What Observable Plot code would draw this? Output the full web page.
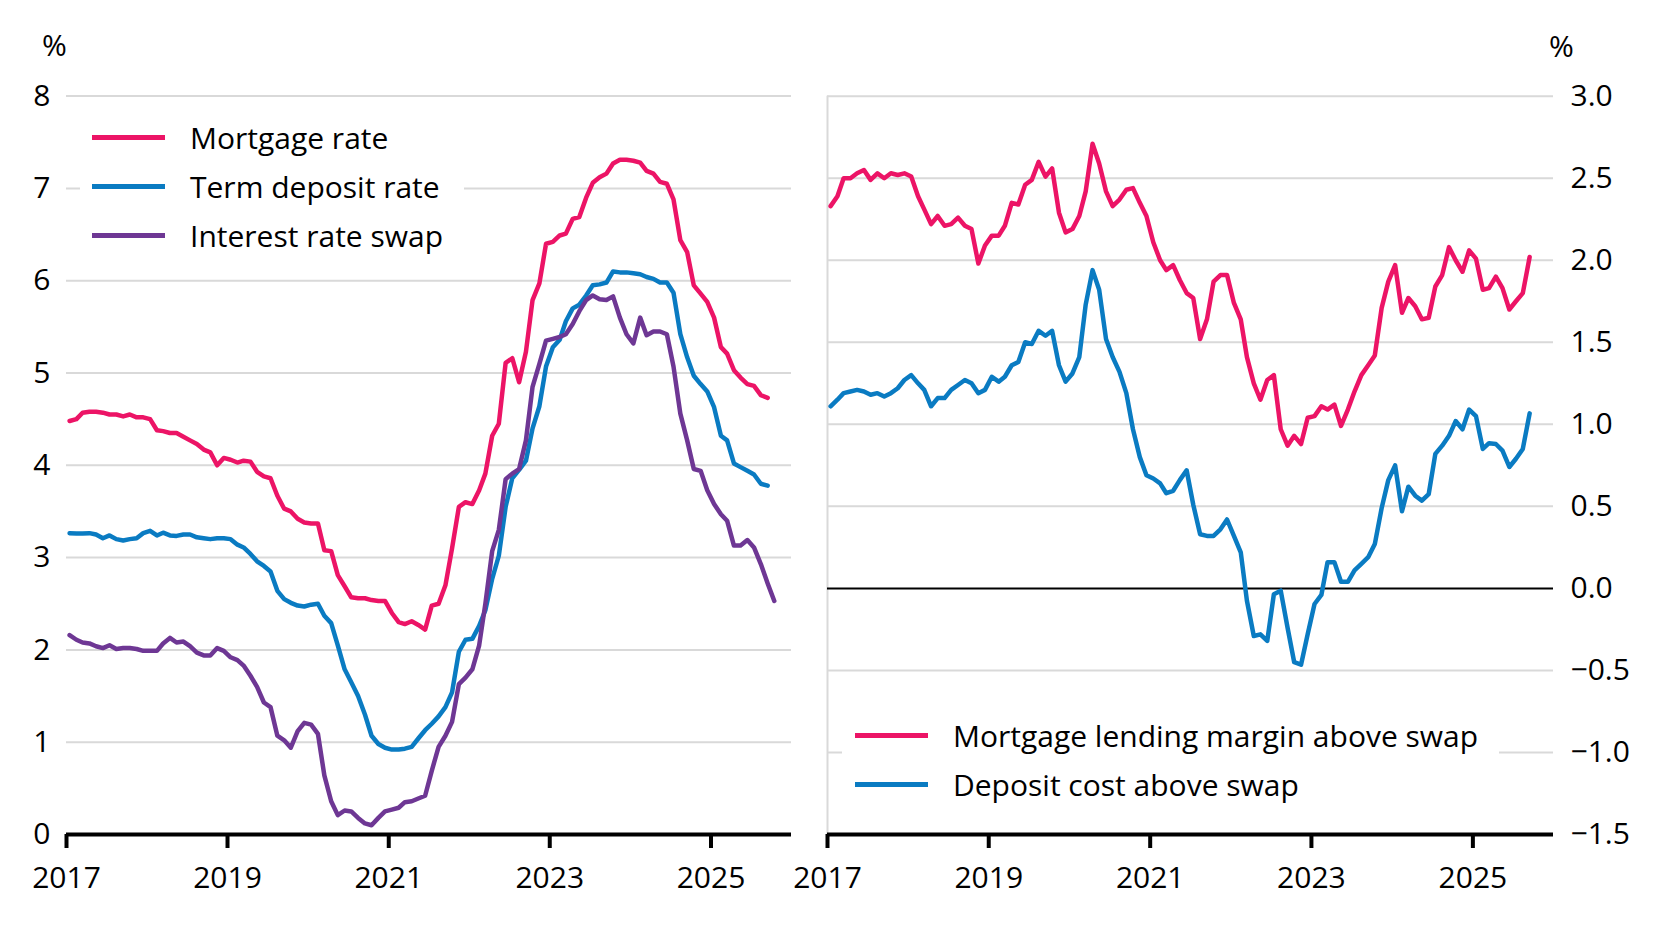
<!DOCTYPE html>
<html>
<head>
<meta charset="utf-8">
<script src="https://cdn.jsdelivr.net/npm/d3@7"></script>
<script src="https://cdn.jsdelivr.net/npm/@observablehq/plot@0.6"></script>
<style>
  body { margin: 0; background: #fff; }
  #wrap { position: relative; width: 1670px; height: 930px; overflow: hidden; font-family: "Open Sans", sans-serif; color: #000; }
  .panel { position: absolute; top: 0; }
  .unit { position: absolute; font-size: 30px; line-height: 30px; }
  .legend { position: absolute; background: #fff; font-size: 30px; }
  .legend .row { display: flex; align-items: center; height: 49px; white-space: nowrap; }
  .legend .sw { display: inline-block; width: 73px; height: 5px; margin-right: 25px; }
</style>
</head>
<body>
<div id="wrap"></div>
<script>
// ---- Data (monthly, Jan 2017 onwards) ----
const startYear = 2017;

const mortgageRate = [
  4.48, 4.50, 4.57, 4.58, 4.58, 4.57, 4.55, 4.55, 4.53, 4.55, 4.52, 4.52,
  4.50, 4.38, 4.37, 4.35, 4.35, 4.31, 4.27, 4.23, 4.17, 4.14, 4.00, 4.08,
  4.06, 4.03, 4.05, 4.04, 3.93, 3.88, 3.86, 3.67, 3.53, 3.50, 3.42, 3.38,
  3.37, 3.37, 3.08, 3.07, 2.81, 2.69, 2.57, 2.56, 2.56, 2.54, 2.53, 2.53,
  2.40, 2.30, 2.28, 2.31, 2.27, 2.22, 2.48, 2.50, 2.70, 3.10, 3.55, 3.60,
  3.58, 3.73, 3.91, 4.32, 4.45, 5.11, 5.16, 4.90, 5.23, 5.79, 5.97, 6.40,
  6.42, 6.49, 6.51, 6.67, 6.69, 6.90, 7.06, 7.12, 7.16, 7.27, 7.31, 7.31,
  7.30, 7.28, 7.19, 7.16, 7.07, 7.05, 6.88, 6.44, 6.31, 5.95, 5.86, 5.77,
  5.60, 5.28, 5.21, 5.03, 4.95, 4.88, 4.86, 4.76, 4.73
];

const termDepositRate = [
  3.265, 3.26, 3.26, 3.265, 3.25, 3.21, 3.24, 3.20, 3.185, 3.20, 3.21, 3.265,
  3.29, 3.24, 3.27, 3.24, 3.235, 3.25, 3.25, 3.22, 3.21, 3.20, 3.21, 3.21,
  3.20, 3.14, 3.11, 3.04, 2.96, 2.91, 2.85, 2.64, 2.55, 2.51, 2.48, 2.47,
  2.49, 2.50, 2.37, 2.29, 2.05, 1.79, 1.65, 1.50, 1.30, 1.07, 0.98, 0.94,
  0.92, 0.92, 0.93, 0.95, 1.04, 1.13, 1.20, 1.28, 1.38, 1.54, 1.98, 2.11,
  2.12, 2.26, 2.43, 2.77, 3.02, 3.55, 3.86, 3.95, 4.05, 4.40, 4.64, 5.07,
  5.28, 5.36, 5.56, 5.70, 5.74, 5.84, 5.95, 5.96, 5.98, 6.10, 6.09, 6.09,
  6.08, 6.07, 6.04, 6.02, 5.98, 5.98, 5.87, 5.42, 5.17, 4.97, 4.88, 4.80,
  4.63, 4.32, 4.27, 4.02, 3.98, 3.94, 3.90, 3.80, 3.78
];

const swapRate = [
  2.16, 2.11, 2.08, 2.07, 2.04, 2.02, 2.05, 2.01, 2.02, 2.02, 2.01, 1.99,
  1.99, 1.99, 2.07, 2.13, 2.08, 2.09, 2.04, 1.97, 1.94, 1.94, 2.02, 1.99,
  1.92, 1.89, 1.83, 1.72, 1.60, 1.43, 1.38, 1.07, 1.02, 0.94, 1.12, 1.21,
  1.19, 1.09, 0.64, 0.36, 0.21, 0.26, 0.25, 0.18, 0.12, 0.10, 0.18, 0.25,
  0.27, 0.29, 0.35, 0.36, 0.39, 0.42, 0.69, 0.95, 1.07, 1.22, 1.63, 1.70,
  1.79, 2.05, 2.50, 3.07, 3.30, 3.85, 3.91, 3.96, 4.27, 4.85, 5.10, 5.35,
  5.37, 5.39, 5.42, 5.53, 5.67, 5.79, 5.84, 5.80, 5.79, 5.83, 5.60, 5.42,
  5.32, 5.60, 5.41, 5.45, 5.45, 5.42, 5.07, 4.56, 4.27, 3.96, 3.94, 3.73,
  3.58, 3.47, 3.40, 3.13, 3.13, 3.19, 3.11, 2.93, 2.72, 2.53
];

const mortgageMargin = [
  2.33, 2.39, 2.50, 2.50, 2.53, 2.55, 2.49, 2.53, 2.50, 2.53, 2.52, 2.53,
  2.51, 2.39, 2.31, 2.22, 2.27, 2.21, 2.22, 2.26, 2.21, 2.19, 1.98, 2.09,
  2.15, 2.15, 2.21, 2.35, 2.34, 2.46, 2.49, 2.60, 2.51, 2.56, 2.29, 2.17,
  2.19, 2.27, 2.42, 2.71, 2.59, 2.42, 2.33, 2.37, 2.43, 2.44, 2.35, 2.27,
  2.11, 2.00, 1.94, 1.97, 1.88, 1.80, 1.77, 1.52, 1.64, 1.87, 1.91, 1.91,
  1.74, 1.64, 1.41, 1.25, 1.15, 1.27, 1.30, 0.97, 0.87, 0.93, 0.88, 1.04,
  1.05, 1.11, 1.09, 1.12, 0.99, 1.09, 1.20, 1.30, 1.36, 1.42, 1.71, 1.87,
  1.97, 1.68, 1.77, 1.72, 1.64, 1.65, 1.84, 1.91, 2.08, 2.00, 1.93, 2.06,
  2.01, 1.82, 1.83, 1.90, 1.83, 1.70, 1.75, 1.80, 2.02
];

const depositCost = [
  1.11, 1.15, 1.19, 1.20, 1.21, 1.20, 1.18, 1.19, 1.17, 1.19, 1.22, 1.27,
  1.30, 1.25, 1.21, 1.11, 1.16, 1.16, 1.21, 1.24, 1.27, 1.25, 1.19, 1.21,
  1.29, 1.26, 1.29, 1.36, 1.38, 1.50, 1.49, 1.57, 1.54, 1.57, 1.36, 1.26,
  1.31, 1.41, 1.73, 1.94, 1.82, 1.52, 1.41, 1.32, 1.19, 0.97, 0.80, 0.69,
  0.67, 0.64, 0.58, 0.595, 0.66, 0.72, 0.51, 0.33, 0.32, 0.32, 0.36, 0.42,
  0.32, 0.22, -0.075, -0.29, -0.28, -0.32, -0.035, -0.014, -0.24, -0.45, -0.465, -0.28,
  -0.095, -0.04, 0.16, 0.16, 0.04, 0.04, 0.11, 0.15, 0.19, 0.27, 0.49, 0.66,
  0.75, 0.47, 0.62, 0.565, 0.535, 0.575, 0.82, 0.87, 0.93, 1.02, 0.97, 1.09,
  1.05, 0.85, 0.885, 0.88, 0.84, 0.74, 0.79, 0.85, 1.067
];

const leftTicks = [0, 1, 2, 3, 4, 5, 6, 7, 8];
const rightTicks = [-1.5, -1.0, -0.5, 0.0, 0.5, 1.0, 1.5, 2.0, 2.5, 3.0];
const yearTicks = [2017, 2019, 2021, 2023, 2025];

const leftSeries = [
  {name: "Mortgage rate", values: mortgageRate, color: "#EC1466"},
  {name: "Term deposit rate", values: termDepositRate, color: "#0A7BC2"},
  {name: "Interest rate swap", values: swapRate, color: "#6E3794"}
];
const rightSeries = [
  {name: "Mortgage lending margin above swap", values: mortgageMargin, color: "#EC1466"},
  {name: "Deposit cost above swap", values: depositCost, color: "#0A7BC2"}
];

// ---- helpers ----
const monthDate = i => new Date(Date.UTC(startYear, i, 15));
const toRows = s => s.values.map((v, i) => ({date: monthDate(i), value: v, name: s.name}));
const xDomain = [new Date(Date.UTC(2017, 0, 1)), new Date(Date.UTC(2026, 0, 1))];
const xTickDates = yearTicks.map(y => new Date(Date.UTC(y, 0, 1)));
const gridColor = "#d9d9d9";
const lineWidth = 4.5;
const baseStyle = {fontFamily: "Open Sans, sans-serif", fontSize: "30px", color: "#000", background: "transparent", overflow: "visible"};

const wrap = document.getElementById("wrap");

// ---- Left panel ----
const left = Plot.plot({
  width: 800, height: 930,
  marginLeft: 66, marginRight: 9, marginTop: 95.6, marginBottom: 96,
  style: baseStyle,
  x: {type: "utc", domain: xDomain, label: null},
  y: {domain: [0, 8], label: null},
  marks: [
    Plot.gridY(leftTicks.filter(t => t !== 0), {stroke: gridColor, strokeOpacity: 1, strokeWidth: 2}),
    Plot.axisY(leftTicks, {tickSize: 0, tickPadding: 16, tickFormat: d3.format("d"), label: null}),
    ...leftSeries.map(s => Plot.lineY(toRows(s), {x: "date", y: "value", stroke: s.color, strokeWidth: lineWidth})),
    Plot.ruleY([0], {stroke: "#000", strokeWidth: 4}),
    Plot.axisX(xTickDates, {tickFormat: d3.utcFormat("%Y"), tickSize: 14, tickPadding: 18, stroke: "#000", strokeWidth: 4, label: null})
  ]
});
left.classList.add("panel");
left.style.left = "0px";
wrap.appendChild(left);

// ---- Right panel ----
const right = Plot.plot({
  width: 870, height: 930,
  marginLeft: 27, marginRight: 117, marginTop: 95.7, marginBottom: 96,
  style: baseStyle,
  x: {type: "utc", domain: xDomain, label: null},
  y: {domain: [-1.5, 3.0], label: null},
  marks: [
    Plot.gridY(rightTicks.filter(t => t !== -1.5 && t !== 0), {stroke: gridColor, strokeOpacity: 1, strokeWidth: 2}),
    Plot.ruleX([xDomain[0]], {stroke: gridColor, strokeWidth: 2}),
    Plot.ruleY([0], {stroke: "#000", strokeWidth: 2}),
    Plot.axisY(rightTicks, {anchor: "right", tickSize: 0, tickPadding: 17, tickFormat: d3.format(".1f"), label: null}),
    ...rightSeries.map(s => Plot.lineY(toRows(s), {x: "date", y: "value", stroke: s.color, strokeWidth: lineWidth})),
    Plot.ruleY([-1.5], {stroke: "#000", strokeWidth: 4}),
    Plot.axisX(xTickDates, {tickFormat: d3.utcFormat("%Y"), tickSize: 14, tickPadding: 18, stroke: "#000", strokeWidth: 4, label: null})
  ]
});
right.classList.add("panel");
right.style.left = "800px";
wrap.appendChild(right);

// ---- Unit labels ----
function unit(x, y) {
  const d = document.createElement("div");
  d.className = "unit";
  d.textContent = "%";
  d.style.left = x + "px";
  d.style.top = y + "px";
  wrap.appendChild(d);
}
unit(42, 30);
unit(1549, 31);

// ---- Legends ----
function legend(series, x, y, padLeft) {
  const box = document.createElement("div");
  box.className = "legend";
  box.style.left = x + "px";
  box.style.top = y + "px";
  box.style.padding = `0 21px 0 ${padLeft}px`;
  for (const s of series) {
    const row = document.createElement("div");
    row.className = "row";
    const sw = document.createElement("span");
    sw.className = "sw";
    sw.style.background = s.color;
    row.appendChild(sw);
    row.appendChild(document.createTextNode(s.name));
    box.appendChild(row);
  }
  wrap.appendChild(box);
}
legend(leftSeries, 80, 113, 12);
legend(rightSeries, 842, 711, 13);
</script>
</body>
</html>
